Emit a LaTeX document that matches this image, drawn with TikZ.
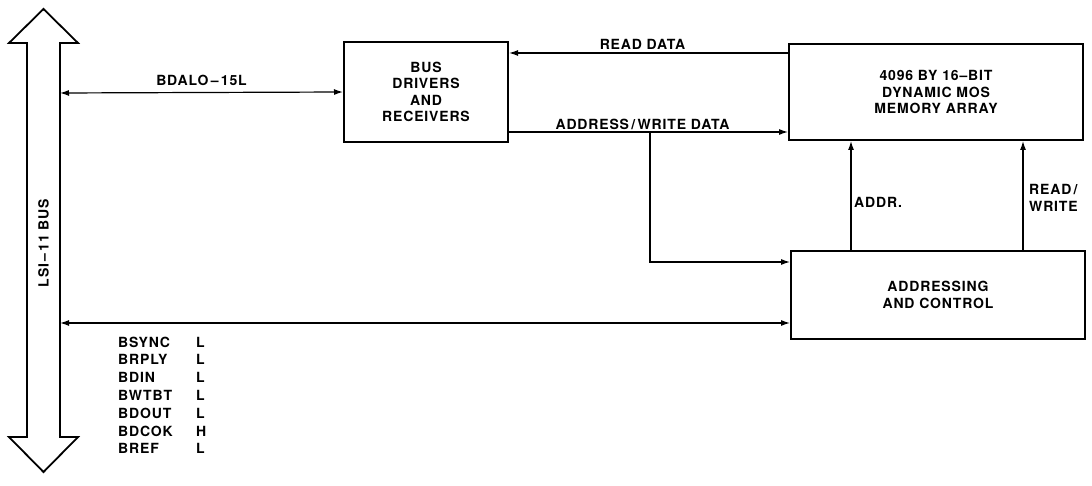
\documentclass[tikz,border=0pt]{standalone}
\usepackage{fontspec}
\setmainfont{TeX Gyre Heros}[LetterSpace=6]
\usetikzlibrary{arrows.meta,positioning}

\newcommand{\lblfont}{\fontsize{14}{16.5}\selectfont\bfseries}

\begin{document}
\begin{tikzpicture}[
  x=1pt, y=-1pt,
  box/.style={
    draw,
    line width=2pt,
    align=center,
    inner sep=0pt,
    font=\lblfont
  },
  arrow/.style={-{Latex[length=9pt,width=6pt]}, line width=1.2pt},
  both/.style={{Latex[length=9pt,width=6pt]}-{Latex[length=9pt,width=6pt]}, line width=1.2pt},
  lbl/.style={font=\lblfont, inner sep=1pt}
]
  \useasboundingbox (0,0) rectangle (1092,486);

  % the bus
  \draw[line width=1.8pt, line join=miter]
    (27,437) -- (27,43) -- (9,43) -- (43.5,9) -- (78,43) -- (60,43)
    -- (60,437) -- (78,437) -- (43.5,472) -- (9,437) -- cycle;
  \node[lbl, rotate=90] (busname) at (43.5,243) {LSI\,--\,11 BUS};
  \coordinate (busd) at (60,93);
  \coordinate (busc) at (60,323);

  % blocks
  \node[box, minimum width=294pt, minimum height=96pt] (memory) at (936,92)
    {4096 BY 16--BIT\\DYNAMIC MOS\\MEMORY ARRAY};
  \node[box, left=279pt of memory, minimum width=164pt, minimum height=100pt] (drivers)
    {BUS\\DRIVERS\\AND\\RECEIVERS};
  \node[box, below=109pt of memory, minimum width=294pt, minimum height=88pt, xshift=2pt] (addressing)
    {ADDRESSING\\AND CONTROL};

  \coordinate (tap) at (650,132);
  \coordinate (addrx) at (851,0);
  \coordinate (rwx) at (1023,0);

  % connectors
  \draw[both] (busd) -- (drivers.west) node[lbl, midway, above=5pt] {BDALO\,--\,15L};
  \draw[arrow] ([yshift=-10pt]memory.north west) coordinate (rd) -- (rd -| drivers.east)
    node[lbl, midway, above=2pt, xshift=-6pt] {READ DATA};
  \draw[arrow] ([yshift=11pt]drivers.south east) coordinate (aw) -- (aw -| memory.west)
    node[lbl, midway, above=1pt, xshift=-6pt] {ADDRESS\,/\,WRITE DATA};
  \draw[arrow] (tap) |- ([yshift=33pt]addressing.west);
  \draw[arrow] (addressing.north -| addrx) -- (memory.south -| addrx);
  \draw[arrow] (addressing.north -| rwx) -- (memory.south -| rwx);
  \draw[both] (busc) -- (busc -| addressing.west);

  \node[lbl, anchor=west] (addrlbl) at (853,202) {ADDR.};
  \node[lbl, anchor=west, align=left] (rwlbl) at (1028,198) {READ\,/\\WRITE};

  % bus signals
  \node[anchor=base west, inner sep=0pt, font=\fontsize{14}{17.8}\selectfont\bfseries] (signals) at (118,347)
    {\begin{tabular}[t]{@{}p{78pt}@{}l@{}}
      BSYNC & L\\
      BRPLY & L\\
      BDIN  & L\\
      BWTBT & L\\
      BDOUT & L\\
      BDCOK & H\\
      BREF  & L
    \end{tabular}};
\end{tikzpicture}
\end{document}
